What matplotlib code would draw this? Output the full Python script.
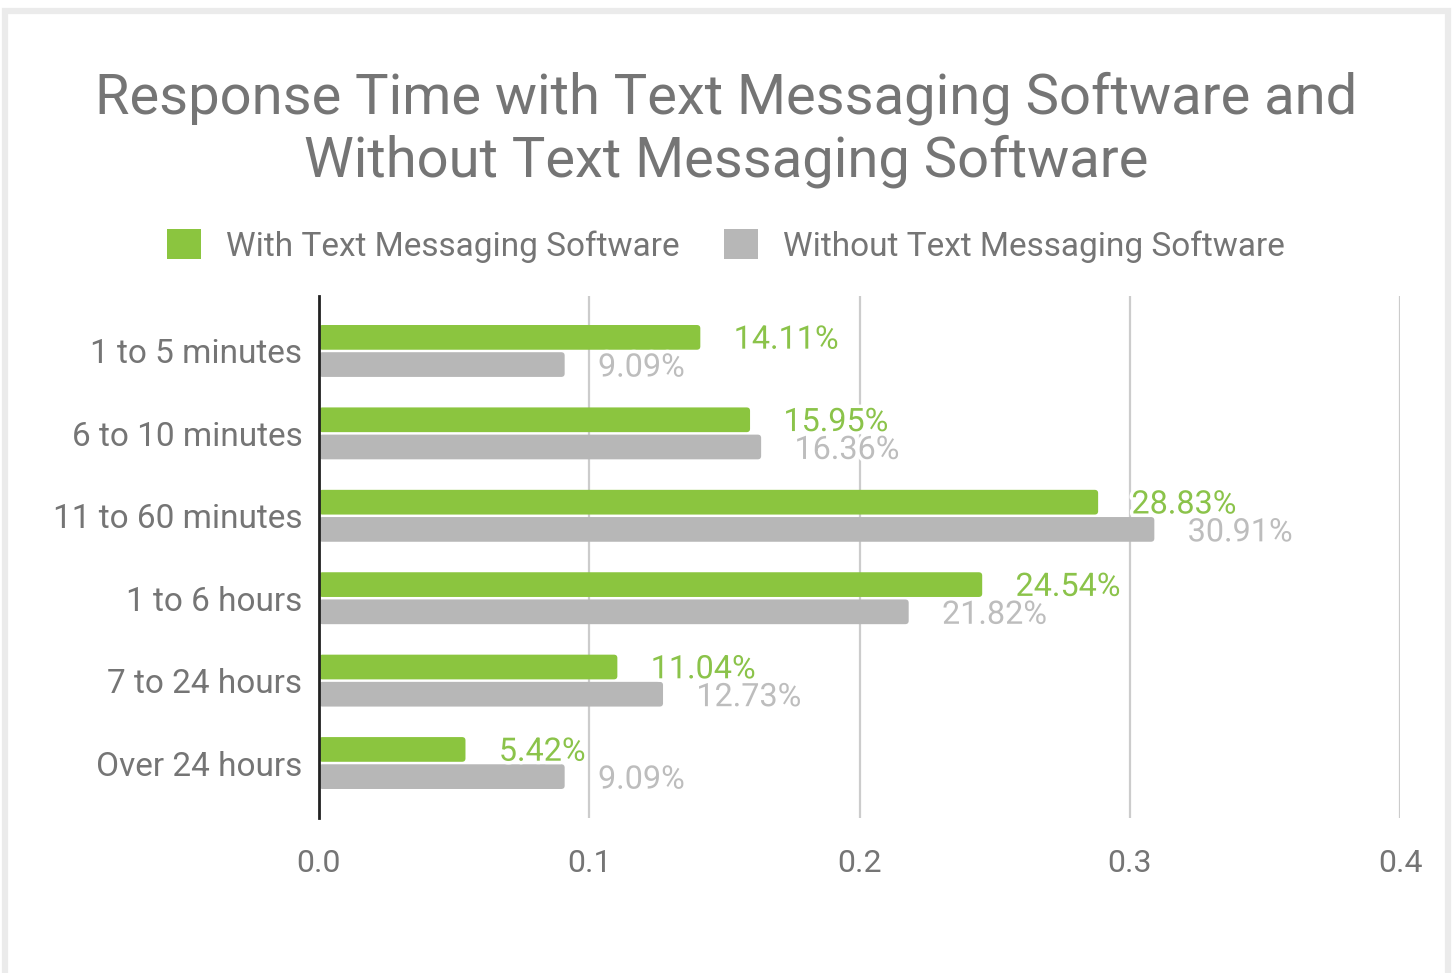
import matplotlib
matplotlib.use("Agg")
import matplotlib.pyplot as plt
from matplotlib.patches import FancyBboxPatch, Rectangle
import matplotlib.patheffects as pe
import numpy as np

plt.rcParams["font.family"] = ["Roboto", "DejaVu Sans"]

categories = ["1 to 5 minutes", "6 to 10 minutes", "11 to 60 minutes",
              "1 to 6 hours", "7 to 24 hours", "Over 24 hours"]
with_software = [0.1411, 0.1595, 0.2883, 0.2454, 0.1104, 0.0542]
without_software = [0.0909, 0.1636, 0.3091, 0.2182, 0.1273, 0.0909]
series_names = ["With Text Messaging Software", "Without Text Messaging Software"]
x_ticks = [0.0, 0.1, 0.2, 0.3, 0.4]

GREEN = "#8BC53F"
GRAY = "#B7B7B7"
GREEN_TXT = "#8BC34A"
GRAY_TXT = "#BDBDBD"
TEXT = "#757575"

W, H = 1452, 973
fig = plt.figure(figsize=(W / 100, H / 100), dpi=100)

# light frame around the chart card
fig.patches.append(Rectangle((5 / W, -0.05), (W - 9) / W, 1.05 - 11 / H,
                             transform=fig.transFigure, fill=False,
                             edgecolor="#EBEBEB", linewidth=4.5))

ax = fig.add_axes([319 / W, 1 - 818 / H, (1400 - 319) / W, (818 - 296) / H])

y = np.arange(len(categories))
bar_h = 0.30
off = 0.165
b1 = ax.barh(y - off, with_software, height=bar_h, color=GREEN)
b2 = ax.barh(y + off, without_software, height=bar_h, color=GRAY)

ax.set_xlim(0, 0.4)
ax.set_ylim(len(categories) - 0.333, -0.667)

# replace plain rectangles with slightly rounded ones
px_x = 0.4 / (1400 - 319)
px_y = (len(categories) + 0.0) / (818 - 296)
aspect = px_y / px_x
for bars in (b1, b2):
    for r in bars:
        r.set_visible(False)
        fb = FancyBboxPatch((r.get_x(), r.get_y()), r.get_width(), r.get_height(),
                            boxstyle=f"round,pad=0,rounding_size={3.5 * px_x}",
                            mutation_aspect=aspect, facecolor=r.get_facecolor(),
                            edgecolor="none", zorder=2)
        ax.add_patch(fb)

halo = [pe.withStroke(linewidth=5, foreground="white")]
for yi, v in zip(y, with_software):
    ax.annotate(f"{v * 100:.2f}%", (v, yi - off), xytext=(24, -2),
                textcoords="offset points", ha="left", va="center",
                fontsize=23.3, color=GREEN_TXT, path_effects=halo, zorder=5)
for yi, v in zip(y, without_software):
    ax.annotate(f"{v * 100:.2f}%", (v, yi + off), xytext=(24, -2.5),
                textcoords="offset points", ha="left", va="center",
                fontsize=23.3, color=GRAY_TXT, path_effects=halo, zorder=4)

ax.set_yticks(y)
ax.set_yticklabels(categories, fontsize=24, color=TEXT)
ax.set_xticks(x_ticks)
ax.set_xticklabels([f"{t:.1f}" for t in x_ticks], fontsize=23, color=TEXT)
ax.tick_params(axis="both", length=0)
ax.tick_params(axis="x", pad=22)
ax.tick_params(axis="y", pad=12)
for lbl in ax.get_yticklabels():
    lbl.set_y(lbl.get_position()[1])

for s in ("top", "right", "bottom"):
    ax.spines[s].set_visible(False)
ax.spines["left"].set_color("#222222")
ax.spines["left"].set_linewidth(2)
ax.spines["left"].set_zorder(6)

ax.set_axisbelow(True)
ax.grid(axis="x", color="#CCCCCC", linewidth=1.6)
ax.grid(axis="y", visible=False)

fig.text(0.5, 1 - 130 / H,
         "Response Time with Text Messaging Software and\nWithout Text Messaging Software",
         ha="center", va="center", fontsize=40.4, color=TEXT, linespacing=1.23)

handles = [Rectangle((0, 0), 1, 1, facecolor=GREEN, edgecolor="none"),
           Rectangle((0, 0), 1, 1, facecolor=GRAY, edgecolor="none")]
leg = fig.legend(handles, series_names, loc="center", bbox_to_anchor=(0.5, 1 - 246 / H),
                 ncol=2, frameon=False, fontsize=24, handlelength=1.0, handleheight=1.0,
                 handletextpad=0.75, columnspacing=1.35)
for t in leg.get_texts():
    t.set_color(TEXT)

fig.savefig("out.png", dpi=100, facecolor="white")
